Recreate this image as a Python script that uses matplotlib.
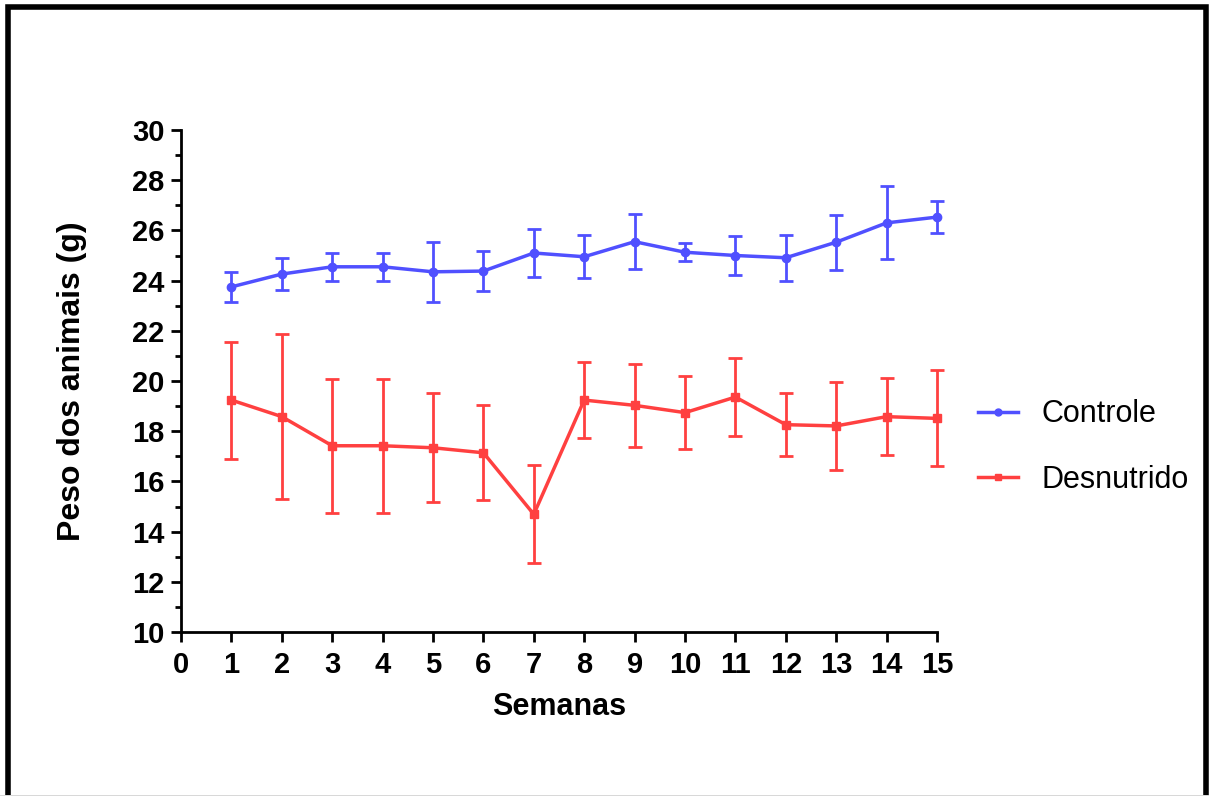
import matplotlib
matplotlib.use("Agg")
import matplotlib.pyplot as plt
from matplotlib.patches import Rectangle
from matplotlib.lines import Line2D

semanas = [1, 2, 3, 4, 5, 6, 7, 8, 9, 10, 11, 12, 13, 14, 15]
controle = [23.75, 24.26, 24.55, 24.55, 24.35, 24.38, 25.1, 24.95, 25.55, 25.13, 25.0, 24.91, 25.53, 26.3, 26.53]
controle_err = [0.6, 0.65, 0.55, 0.55, 1.2, 0.78, 0.95, 0.85, 1.1, 0.35, 0.77, 0.92, 1.1, 1.45, 0.65]
desnutrido = [19.24, 18.58, 17.42, 17.42, 17.34, 17.14, 14.69, 19.24, 19.03, 18.74, 19.36, 18.26, 18.21, 18.58, 18.51]
desnutrido_err = [2.33, 3.3, 2.67, 2.67, 2.17, 1.9, 1.95, 1.52, 1.64, 1.45, 1.56, 1.25, 1.77, 1.53, 1.91]
xticks = list(range(0, 16))
yticks = list(range(10, 31, 2))

plt.rcParams['font.family'] = ['Liberation Sans', 'DejaVu Sans']

fig = plt.figure(figsize=(12.09, 7.96), dpi=100)
fig.patches.append(Rectangle((8/1209, -10/796), 1198/1209, 799.5/796, transform=fig.transFigure,
                             fill=False, edgecolor='black', linewidth=4, zorder=0))
fig.patches.append(Rectangle((0, 0), 1, 1.5/796, transform=fig.transFigure,
                             facecolor='#d8d8d8', edgecolor='none', zorder=1))

ax = fig.add_axes([181/1209, 1 - 632/796, 756/1209, 502/796])

blue = '#5050ff'
red = '#ff4040'
ax.errorbar(semanas, controle, yerr=controle_err, color=blue, marker='o', markersize=6,
            linewidth=2.5, elinewidth=2, capsize=5, capthick=2, label='Controle', clip_on=False, zorder=3)
ax.errorbar(semanas, desnutrido, yerr=desnutrido_err, color=red, marker='s', markersize=6,
            linewidth=2.5, elinewidth=2, capsize=5, capthick=2, label='Desnutrido', clip_on=False, zorder=3)

ax.set_xlim(0, 15)
ax.set_ylim(10, 30)
ax.set_xticks(xticks)
ax.set_yticks(yticks)
ax.set_yticks(list(range(11, 30, 2)), minor=True)
for s in ['top', 'right']:
    ax.spines[s].set_visible(False)
for s in ['left', 'bottom']:
    ax.spines[s].set_linewidth(2)
ax.tick_params(axis='both', which='major', length=7, width=2, labelsize=21)
ax.tick_params(axis='x', which='major', pad=7)
ax.tick_params(axis='y', which='major', pad=5)
ax.tick_params(axis='y', which='minor', length=4, width=2)
for lab in ax.get_xticklabels() + ax.get_yticklabels():
    lab.set_fontweight('bold')

ax.set_xlabel('Semanas', fontsize=22, fontweight='bold', labelpad=9)
ax.set_ylabel('Peso dos animais (g)', fontsize=23, fontweight='bold', labelpad=32)

handles = [Line2D([], [], color=blue, marker='o', markersize=5, linewidth=2.5),
           Line2D([], [], color=red, marker='s', markersize=5, linewidth=2.5)]
fig.legend(handles, ['Controle', 'Desnutrido'], loc='center left',
           bbox_to_anchor=(978/1209, 1 - 447/796), frameon=False, fontsize=22,
           handlelength=1.3, labelspacing=1.16, handletextpad=0.79,
           borderpad=0, borderaxespad=0)

fig.savefig('out.png', dpi=100)
